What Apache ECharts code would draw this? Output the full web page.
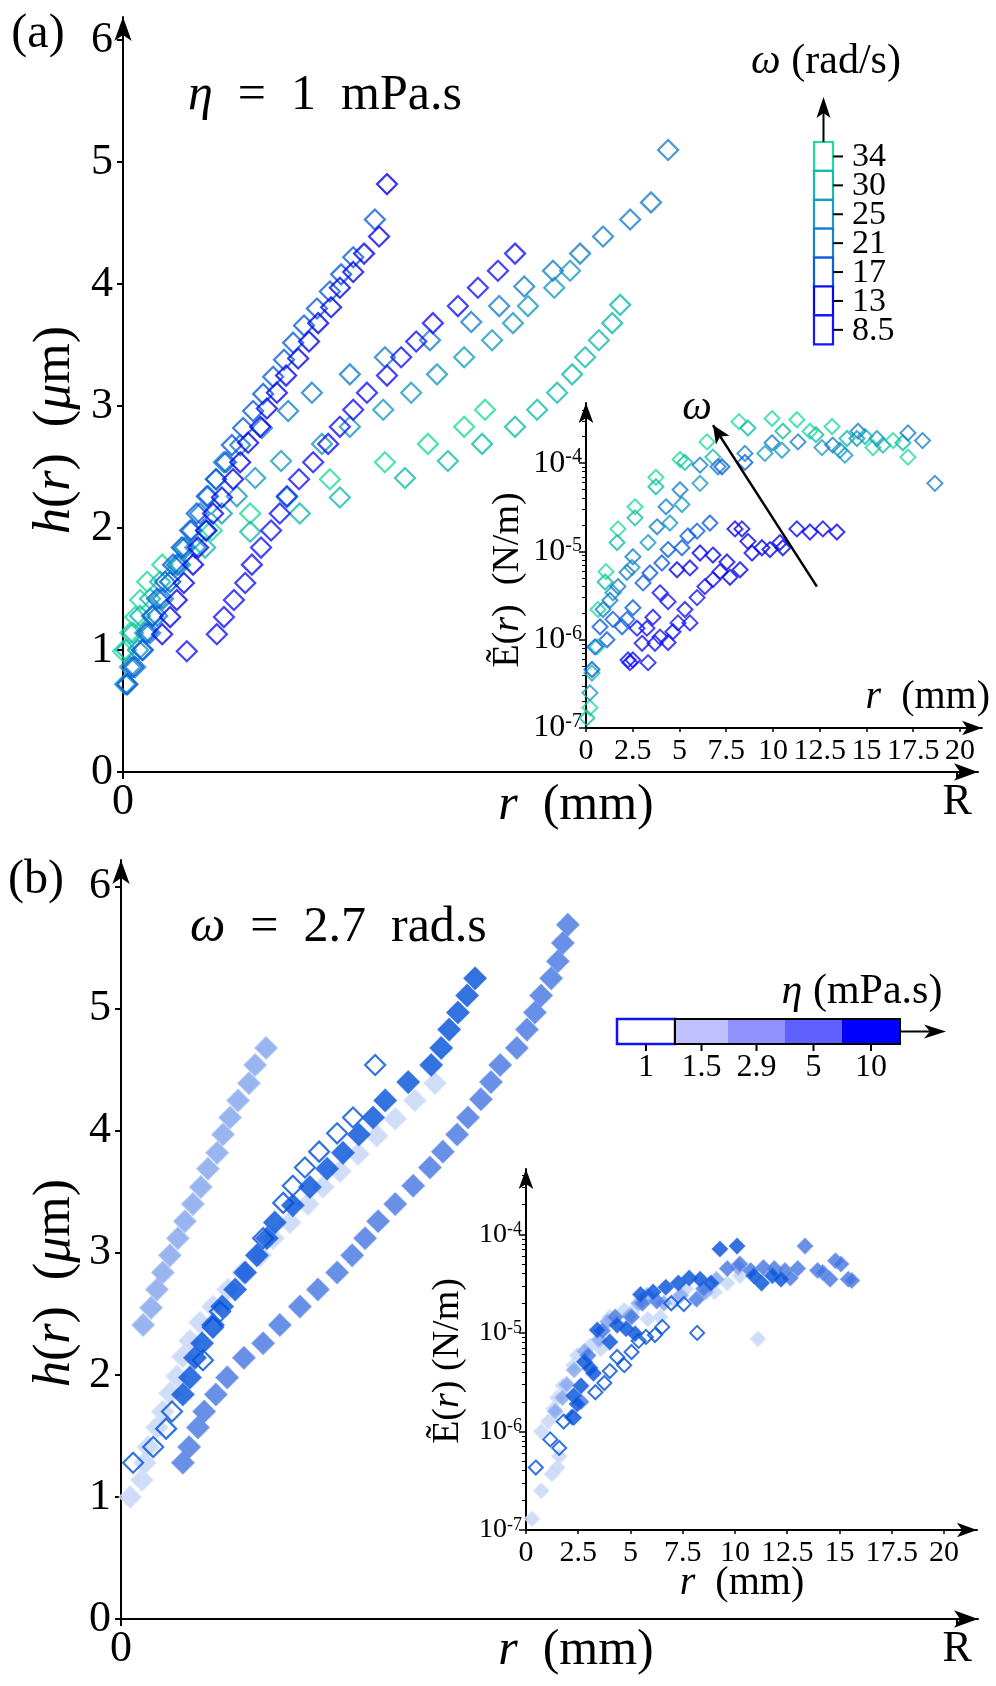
<!DOCTYPE html>
<html>
<head>
<meta charset="utf-8">
<script src="https://cdn.jsdelivr.net/npm/echarts@6/dist/echarts.min.js"></script>
<style>
  html, body { margin: 0; padding: 0; background: #fff; }
  #chart { width: 996px; height: 1686px; }
</style>
</head>
<body>
<div id="chart"></div>
<script>
// ---------- panel (a): h(r) for several rotation speeds, eta = 1 mPa.s ----------
const omegaLabels = ['34', '30', '25', '21', '17', '13', '8.5'];
const omegaColors = ['#20dc9c', '#14bcaa', '#1a9cc0', '#1a7ecc', '#0c5ee0', '#0808ec', '#1414ff'];

const hA_34 = [[0.0,0.99],[0.17,1.14],[0.29,1.27],[0.41,1.41],[0.58,1.56],[0.94,1.70],[1.44,1.84],[2.13,1.98],[3.05,2.12],[3.93,2.25],[4.96,2.40],[6.28,2.54],[7.31,2.69],[8.18,2.83],[8.68,2.97]];
const hA_30 = [[0.07,1.0],[0.24,1.14],[0.41,1.28],[0.65,1.42],[0.89,1.56],[1.32,1.70],[1.97,1.84],[3.05,1.97],[4.24,2.12],[5.20,2.25],[6.76,2.41],[7.79,2.55],[8.61,2.69],[9.40,2.83],[9.93,2.97],[10.41,3.11],[10.77,3.26],[11.08,3.40],[11.41,3.54],[11.73,3.68],[11.92,3.83]];
const hA_25 = [[0.05,0.72],[0.17,0.86],[0.36,1.0],[0.53,1.14],[0.72,1.28],[0.89,1.42],[1.13,1.56],[1.37,1.70],[1.73,1.84],[2.01,1.98],[2.37,2.12],[2.73,2.26],[3.17,2.41],[3.79,2.55],[4.77,2.69],[5.44,2.83],[6.24,2.97],[6.91,3.11],[7.53,3.26],[8.18,3.40],[8.85,3.54],[9.35,3.68],[9.71,3.82],[10.34,3.97],[10.72,4.11]];
const hA_21 = [[0.10,0.72],[0.29,0.86],[0.48,1.0],[0.65,1.14],[0.82,1.28],[0.96,1.42],[1.13,1.56],[1.29,1.70],[1.49,1.84],[1.65,1.98],[1.85,2.12],[2.04,2.26],[2.23,2.40],[2.42,2.54],[2.81,2.68],[3.33,2.82],[3.96,2.96],[4.53,3.11],[5.44,3.26],[6.28,3.40],[7.36,3.54],[8.35,3.69],[9.02,3.82],[9.62,3.98],[10.31,4.11],[10.96,4.25],[11.51,4.39],[12.16,4.53],[12.66,4.67],[13.07,5.10]];
const hA_17 = [[0.10,0.72],[0.24,0.86],[0.46,1.0],[0.58,1.14],[0.70,1.28],[0.82,1.42],[1.01,1.56],[1.20,1.70],[1.41,1.84],[1.61,1.98],[1.77,2.12],[2.01,2.26],[2.23,2.40],[2.47,2.54],[2.61,2.68],[2.88,2.82],[3.12,2.96],[3.36,3.10],[3.60,3.24],[3.86,3.38],[4.08,3.52],[4.34,3.66],[4.65,3.80],[4.96,3.94],[5.23,4.08],[5.52,4.22],[6.04,4.53]];
const hA_13 = [[0.94,1.13],[1.13,1.27],[1.29,1.41],[1.46,1.55],[1.68,1.70],[1.80,1.84],[1.99,1.98],[2.16,2.12],[2.37,2.25],[2.64,2.40],[2.81,2.54],[3.00,2.70],[3.29,2.83],[3.45,2.98],[3.69,3.11],[3.91,3.25],[4.20,3.39],[4.46,3.53],[4.68,3.68],[4.99,3.81],[5.20,3.97],[5.52,4.10],[5.78,4.25],[6.14,4.39],[6.33,4.82]];
const hA_8p5 = [[1.53,0.99],[2.25,1.13],[2.42,1.27],[2.66,1.41],[2.93,1.55],[3.09,1.70],[3.31,1.84],[3.55,1.98],[3.76,2.12],[3.93,2.26],[4.22,2.40],[4.56,2.54],[4.92,2.69],[5.20,2.83],[5.52,2.97],[5.85,3.11],[6.33,3.25],[6.67,3.40],[7.03,3.53],[7.43,3.68],[8.03,3.82],[8.51,3.97],[8.99,4.11],[9.40,4.25]];

// inset (a): E(r) in N/m
const eA_34 = [[0.21,1.7e-7],[0.59,8.3e-7],[0.64,2.2e-6],[1.07,5.9e-6],[1.71,1.8e-5],[2.62,3.2e-5],[3.74,6.9e-5],[5.03,1.1e-4],[6.47,1.74e-4],[8.18,2.95e-4],[9.95,3.2e-4],[11.28,3.1e-4],[11.98,2.3e-4],[13.16,2.6e-4],[15.35,1.5e-4],[16.42,1.8e-4],[17.22,1.17e-4]];
const eA_30 = [[0.05,1.3e-7],[0.32,4.2e-7],[1.02,4.5e-6],[1.66,1.26e-5],[2.62,2.4e-5],[3.74,5.4e-5],[5.29,1.02e-4],[6.79,1.17e-4],[8.66,2.5e-4],[10.53,2.3e-4],[12.3,2.1e-4],[13.96,1.9e-4],[14.92,2.0e-4],[15.88,1.6e-4],[16.95,1.7e-4]];
const eA_25 = [[0.21,2.5e-7],[1.44,3.4e-6],[2.46,6.6e-6],[3.32,1.26e-5],[4.49,2.1e-5],[5.13,3.4e-5],[6.10,5.9e-5],[9.57,1.29e-4],[10.48,1.4e-4],[12.62,1.5e-4],[13.58,1.4e-4],[13.85,1.23e-4],[14.49,1.9e-4],[15.56,1.9e-4]];
const eA_21 = [[0.91,2.2e-6],[1.28,2.8e-6],[1.71,4.0e-6],[2.19,5.8e-6],[2.51,8.7e-6],[3.80,1.9e-5],[4.28,3.2e-5],[5.03,5.0e-5],[6.10,9.5e-5],[7.06,9.1e-5],[8.50,1.29e-4],[9.95,1.7e-4],[11.34,1.74e-4],[13.2,1.6e-4],[14.55,2.3e-4],[17.22,2.2e-4],[18.0,1.8e-4],[18.66,5.9e-5]];
const eA_17 = [[0.32,4.6e-7],[0.48,8.3e-7],[0.75,1.4e-6],[1.12,1.0e-6],[1.44,1.7e-6],[1.93,1.4e-6],[2.19,1.7e-6],[2.51,2.3e-6],[3.05,4.4e-6],[3.42,5.7e-6],[4.06,7.4e-6],[4.39,1.05e-5],[5.13,1.1e-5],[5.45,1.5e-5],[5.94,1.7e-5],[6.63,2.1e-5],[7.27,9.1e-5],[8.50,1.02e-4]];
const eA_13 = [[4.87,6.2e-6],[5.56,6.5e-6],[6.10,9.6e-6],[6.79,9.1e-6],[7.17,5.9e-6],[7.54,7.6e-6],[7.7,5.1e-6],[8.24,6.2e-6],[7.97,1.8e-5],[8.34,1.8e-5],[8.66,1.3e-5],[8.88,9.6e-6],[9.41,1.1e-5],[9.84,1.05e-5],[10.37,1.26e-5],[10.53,1.1e-5],[11.28,1.8e-5],[11.98,1.66e-5],[12.67,1.8e-5],[13.42,1.66e-5]];
const eA_8p5 = [[2.25,5.9e-7],[2.35,5.5e-7],[2.51,5.9e-7],[2.73,1.35e-6],[3.0,9.1e-7],[3.26,1.35e-6],[3.32,5.5e-7],[3.58,1.8e-6],[3.69,9.1e-7],[3.96,3.4e-6],[3.96,1.07e-6],[4.39,2.7e-6],[4.39,9.3e-7],[4.65,1.23e-6],[4.92,1.55e-6],[5.29,2.2e-6],[5.56,1.55e-6],[5.94,3.0e-6],[6.36,4.0e-6],[6.79,4.8e-6]];

// ---------- panel (b): h(r) for several viscosities, omega = 2.7 ----------
const etaLabels = ['1', '1.5', '2.9', '5', '10'];
const etaBarColors = ['#ffffff', '#c0c0ff', '#9090ff', '#6060ff', '#0000ff'];
const etaMarkColors = ['#0050d8', '#c4d4f6', '#80a2ec', '#4274e0', '#0050d8'];
const etaMarkBorders = ['#0050d8', '#d6e2fa', '#a2bbf2', '#6a90e8', '#2a6ae0'];

const hB_1 = [[0.29,1.28],[0.77,1.41],[1.08,1.56],[1.22,1.70],[1.96,2.12],[2.20,2.39],[2.37,2.52],[3.40,3.12],[3.88,3.41],[4.11,3.55],[4.40,3.70],[4.74,3.83],[5.17,3.98],[5.55,4.11],[6.08,4.54]];
const hB_1p5 = [[0.22,1.0],[0.50,1.14],[0.57,1.28],[0.65,1.41],[0.86,1.57],[1.00,1.70],[1.17,1.85],[1.34,1.99],[1.48,2.15],[1.65,2.28],[1.89,2.43],[2.20,2.56],[2.56,2.70],[2.92,2.84],[3.33,2.98],[3.64,3.12],[4.04,3.25],[4.47,3.40],[4.83,3.54],[5.24,3.67],[5.67,3.81],[6.12,3.96],[6.56,4.10],[7.03,4.25],[7.51,4.39]];
const hB_2p9 = [[0.53,2.41],[0.72,2.55],[0.86,2.70],[1.00,2.84],[1.17,2.98],[1.36,3.12],[1.53,3.26],[1.72,3.40],[1.91,3.54],[2.08,3.69],[2.30,3.82],[2.44,3.97],[2.61,4.11],[2.80,4.25],[3.06,4.39],[3.21,4.54],[3.47,4.68]];
const hB_5 = [[1.48,1.28],[1.63,1.41],[1.84,1.57],[1.99,1.70],[2.27,1.84],[2.54,1.98],[2.94,2.14],[3.40,2.26],[3.80,2.41],[4.28,2.56],[4.71,2.70],[5.17,2.84],[5.53,2.98],[5.84,3.12],[6.15,3.26],[6.56,3.40],[6.99,3.55],[7.39,3.70],[7.70,3.83],[8.04,3.97],[8.30,4.11],[8.61,4.26],[8.85,4.40],[9.07,4.54],[9.47,4.68],[9.71,4.83],[9.90,4.97],[10.05,5.11],[10.29,5.25],[10.45,5.39],[10.57,5.54],[10.69,5.69]];
const hB_10 = [[1.48,1.84],[1.65,1.98],[1.77,2.14],[1.94,2.26],[2.20,2.41],[2.42,2.56],[2.73,2.70],[2.97,2.84],[3.25,2.98],[3.49,3.12],[3.68,3.25],[4.11,3.39],[4.52,3.54],[4.93,3.69],[5.31,3.82],[5.69,3.97],[6.03,4.11],[6.32,4.25],[6.87,4.40],[7.42,4.54],[7.66,4.68],[7.85,4.83],[8.06,4.97],[8.28,5.11],[8.47,5.25]];

// inset (b): E(r) in N/m
const eB_1 = [[0.47,4.3e-7],[1.16,8.3e-7],[1.59,6.8e-7],[1.8,1.26e-6],[2.28,1.38e-6],[3.32,2.5e-6],[3.75,3.1e-6],[4.01,4.1e-6],[4.36,5.7e-6],[4.70,4.7e-6],[5.05,6.4e-6],[5.39,8.3e-6],[5.74,9.1e-6],[6.17,9.5e-6],[6.52,1.15e-5],[6.95,2.0e-5],[7.55,1.96e-5],[8.19,1.0e-5]];
const eB_1p5 = [[0.29,1.3e-7],[0.73,2.5e-7],[1.24,3.7e-7],[1.5,4.3e-7],[1.59,5.6e-7],[0.73,1.0e-6],[1.07,1.26e-6],[1.33,1.7e-6],[1.5,2.2e-6],[1.76,2.9e-6],[2.28,4.7e-6],[2.45,5.9e-6],[3.06,7.4e-6],[3.58,6.9e-6],[4.01,1.45e-5],[4.70,1.7e-5],[5.05,1.6e-5],[5.83,1.38e-5],[6.43,1.45e-5],[7.12,2.1e-5],[7.64,2.8e-5],[9.02,2.6e-5],[9.63,3.2e-5],[10.23,3.8e-5],[11.1,8.7e-6]];
const eB_2p9 = [[1.4,1.6e-6],[1.75,2.2e-6],[1.95,3.0e-6],[2.3,4.2e-6],[2.8,6.5e-6],[3.5,8.5e-6],[3.9,1.3e-5],[4.95,1.5e-5],[5.39,2.0e-5],[5.8,2.4e-5],[6.6,2.0e-5],[7.4,2.4e-5],[8.59,2.6e-5],[9.11,3.5e-5],[10.15,4.6e-5]];
const eB_5 = [[2.63,2.0e-6],[2.97,5.9e-6],[3.66,1.05e-5],[4.27,1.45e-5],[5.05,1.45e-5],[5.57,2.0e-5],[6.26,2.1e-5],[8.16,2.2e-5],[8.5,2.8e-5],[9.63,4.5e-5],[10.23,5.0e-5],[10.75,4.3e-5],[11.36,4.6e-5],[11.88,4.5e-5],[12.39,4.3e-5],[12.65,3.6e-5],[13.0,4.5e-5],[13.35,7.6e-5],[13.95,4.3e-5],[14.2,4.1e-5],[14.55,3.5e-5],[14.81,5.4e-5],[15.07,5.0e-5],[15.42,3.5e-5],[15.59,3.4e-5]];
const eB_10 = [[2.20,1.4e-6],[2.28,2.3e-6],[2.45,1.9e-6],[2.63,2.9e-6],[2.80,5.1e-6],[3.06,4.4e-6],[3.23,3.9e-6],[3.41,1.07e-5],[4.01,8.1e-6],[4.36,1.2e-5],[4.79,1.1e-5],[5.22,9.8e-6],[5.48,2.45e-5],[6.08,2.6e-5],[6.69,2.9e-5],[7.29,3.2e-5],[7.81,3.6e-5],[8.33,3.5e-5],[8.85,3.2e-5],[9.28,7.1e-5],[10.1,7.6e-5],[10.9,3.8e-5],[11.27,3.2e-5],[11.79,3.8e-5],[12.2,3.5e-5]];

// axis ticks
const hTicks = [0, 1, 2, 3, 4, 5, 6];
const rMainTicks = [0, 20];          // 0 and R
const rInsetTicks = [0, 2.5, 5, 7.5, 10, 12.5, 15, 17.5, 20];
const eMajorTicks = [1e-7, 1e-6, 1e-5, 1e-4];
const eMinorTicks = [];
[-7, -6, -5, -4].forEach(p => { for (let k = 2; k <= 9; k++) eMinorTicks.push(k * Math.pow(10, p)); });

const FONT = '"Liberation Serif", "DejaVu Serif", serif';

function mainX(grid) {
  return {
    type: 'value', gridIndex: grid, min: 0, max: 20.5,
    axisLine: { show: true, lineStyle: { color: '#000', width: 2 }, symbol: ['none', 'arrow'], symbolSize: [13, 24] },
    axisTick: { show: true, customValues: rMainTicks, length: 7, lineStyle: { width: 2, color: '#000' } },
    axisLabel: { customValues: rMainTicks, formatter: v => (v === 0 ? '0' : 'R'), fontSize: 44, fontFamily: FONT, color: '#000', margin: 8 },
    splitLine: { show: false }
  };
}
function mainY(grid, max) {
  return {
    type: 'value', gridIndex: grid, min: 0, max: max,
    axisLine: { show: true, lineStyle: { color: '#000', width: 2 }, symbol: ['none', 'arrow'], symbolSize: [13, 24] },
    axisTick: { show: true, customValues: hTicks, length: 6, lineStyle: { width: 2, color: '#000' } },
    axisLabel: { customValues: hTicks, fontSize: 44, fontFamily: FONT, color: '#000', margin: 10 },
    splitLine: { show: false }
  };
}
function insetX(grid, max, fs) {
  return {
    type: 'value', gridIndex: grid, min: 0, max: max,
    axisLine: { show: true, lineStyle: { color: '#000', width: 2 }, symbol: ['none', 'arrow'], symbolSize: [11, 20] },
    axisTick: { show: true, customValues: rInsetTicks, length: 4, lineStyle: { width: 1.5, color: '#000' } },
    axisLabel: { customValues: rInsetTicks, fontSize: fs, fontFamily: FONT, color: '#000', margin: 8 },
    splitLine: { show: false }
  };
}
function insetY(grid, max, fs, sup) {
  return {
    type: 'log', logBase: 10, gridIndex: grid, min: 1e-7, max: max,
    axisLine: { show: true, lineStyle: { color: '#000', width: 2 }, symbol: ['none', 'arrow'], symbolSize: [11, 20] },
    axisTick: { show: true, customValues: eMajorTicks, length: 7, lineStyle: { width: 1.5, color: '#000' } },
    axisLabel: {
      customValues: eMajorTicks, margin: 4, color: '#000',
      formatter: v => '{b|10}{s|' + Math.round(Math.log10(v)) + '}',
      rich: {
        b: { fontSize: fs, fontFamily: FONT, color: '#000' },
        s: { fontSize: sup, fontFamily: FONT, color: '#000', verticalAlign: 'top' }
      }
    },
    splitLine: { show: false }
  };
}
function minorY(grid, max) {
  return {
    type: 'log', logBase: 10, gridIndex: grid, min: 1e-7, max: max, position: 'left',
    axisLine: { show: false },
    axisTick: { show: true, customValues: eMinorTicks, length: 4, lineStyle: { width: 1, color: '#000' } },
    axisLabel: { show: false },
    splitLine: { show: false }
  };
}

function hollow(data, color, xi, yi, size, bw) {
  return {
    type: 'scatter', xAxisIndex: xi, yAxisIndex: yi, symbol: 'diamond', symbolSize: size, data: data,
    itemStyle: { color: 'rgba(255,255,255,0)', borderColor: color, borderWidth: bw }, silent: true
  };
}
function filled(data, i, xi, yi, size) {
  return {
    type: 'scatter', xAxisIndex: xi, yAxisIndex: yi, symbol: 'diamond', symbolSize: size, data: data,
    itemStyle: { color: etaMarkColors[i], borderColor: etaMarkBorders[i], borderWidth: 1.5 }, silent: true
  };
}

const hA = [hA_34, hA_30, hA_25, hA_21, hA_17, hA_13, hA_8p5];
const eA = [eA_34, eA_30, eA_25, eA_21, eA_17, eA_13, eA_8p5];

const series = [];
hA.forEach((d, i) => series.push(hollow(d, omegaColors[i], 0, 0, 20, 2.2)));
eA.forEach((d, i) => series.push(hollow(d, omegaColors[i], 1, 1, 15, 2)));
// omega arrow in inset (a)
series[7].markLine = {
  silent: true, symbol: ['none', 'arrow'], symbolSize: [12, 18],
  lineStyle: { color: '#000', width: 2.5, type: 'solid' }, label: { show: false },
  data: [[{ coord: [12.35, 4.0e-6] }, { coord: [6.79, 2.7e-4] }]]
};
series.push(filled(hB_1p5, 1, 2, 3, 22));
series.push(filled(hB_2p9, 2, 2, 3, 22));
series.push(filled(hB_5, 3, 2, 3, 22));
series.push(hollow(hB_1, etaMarkColors[0], 2, 3, 20, 2.2));
series.push(filled(hB_10, 4, 2, 3, 22));
series.push(filled(eB_1p5, 1, 3, 4, 15));
series.push(filled(eB_2p9, 2, 3, 4, 15));
series.push(filled(eB_5, 3, 3, 4, 15));
series.push(hollow(eB_1, etaMarkColors[0], 3, 4, 14, 2));
series.push(filled(eB_10, 4, 3, 4, 15));

// ---------- annotations / colour keys ----------
function txt(x, y, text, size, opts) {
  return Object.assign({
    type: 'text', x: x, y: y, silent: true,
    style: Object.assign({ text: text, fontSize: size, fontFamily: FONT, fill: '#000', align: 'center', verticalAlign: 'middle' }, (opts && opts.style) || {})
  }, (opts && opts.el) || {});
}
function line(x1, y1, x2, y2, w) {
  return { type: 'line', silent: true, shape: { x1, y1, x2, y2 }, style: { stroke: '#000', lineWidth: w || 2 } };
}
function head(points) {
  return { type: 'polygon', silent: true, shape: { points: points }, style: { fill: '#000' } };
}
function richText(x, y, text, size, align, rot) {
  return {
    type: 'text', x: x, y: y, rotation: rot || 0, silent: true,
    style: { text: text, fontSize: size, fontFamily: FONT, fill: '#000', align: align, verticalAlign: 'middle',
             rich: { i: { fontStyle: 'italic', fontSize: size, fontFamily: FONT } } }
  };
}

const graphics = [];
graphics.push(txt(38, 34, '(a)', 48));
graphics.push(txt(36, 880, '(b)', 48));
// panel titles
graphics.push(richText(188, 96, '{i|η}  =  1  mPa.s', 50, 'left'));
graphics.push(richText(190, 928, '{i|ω}  =  2.7  rad.s', 50, 'left'));
// axis titles
graphics.push(richText(55, 430, '{i|h}({i|r})  ({i|μ}m)', 52, 'center', Math.PI / 2));
graphics.push(richText(55, 1283, '{i|h}({i|r})  ({i|μ}m)', 52, 'center', Math.PI / 2));
graphics.push(richText(576, 806, '{i|r}  (mm)', 50, 'center'));
graphics.push(richText(576, 1651, '{i|r}  (mm)', 50, 'center'));
graphics.push(richText(508, 580, 'Ẽ({i|r})  (N/m)', 38, 'center', Math.PI / 2));
graphics.push(richText(448, 1361, 'Ẽ({i|r}) (N/m)', 38, 'center', Math.PI / 2));
graphics.push(richText(990, 697, '{i|r}  (mm)', 40, 'right'));
graphics.push(richText(742, 1583, '{i|r}  (mm)', 40, 'center'));
graphics.push(txt(697, 408, 'ω', 42, { style: { fontStyle: 'italic' } }));

// omega colour key (panel a)
const kx = 814, ky = 142, kw = 19, kh = 28.9;
omegaLabels.forEach((lab, i) => {
  const y0 = ky + i * kh;
  graphics.push({ type: 'rect', silent: true, shape: { x: kx, y: y0, width: kw, height: kh },
                  style: { fill: '#fff', stroke: omegaColors[i], lineWidth: 2.2 } });
  graphics.push(line(kx + kw, y0 + kh / 2, kx + kw + 10, y0 + kh / 2, 2));
  graphics.push(txt(kx + kw + 19, y0 + kh / 2 + 1, lab, 34, { style: { align: 'left' } }));
});
graphics.push(line(kx + kw / 2, ky, kx + kw / 2, ky - 30, 2));
graphics.push(head([[kx + kw / 2, ky - 45], [kx + kw / 2 - 7, ky - 24], [kx + kw / 2, ky - 29], [kx + kw / 2 + 7, ky - 24]]));
graphics.push(richText(826, 62, '{i|ω} (rad/s)', 42, 'center'));

// eta colour key (panel b)
const bx = [617, 675, 728, 785, 842, 900], by = 1019, bh = 25;
etaLabels.forEach((lab, i) => {
  graphics.push({ type: 'rect', silent: true, shape: { x: bx[i], y: by, width: bx[i + 1] - bx[i], height: bh },
                  style: { fill: etaBarColors[i], stroke: i === 0 ? '#1010ff' : null, lineWidth: 2.5 } });
  const cx = (bx[i] + bx[i + 1]) / 2;
  graphics.push(line(cx, by + bh, cx, by + bh + 7, 2));
  graphics.push(txt(cx, by + bh + 24, lab, 32));
});
graphics.push({ type: 'rect', silent: true, shape: { x: bx[1], y: by, width: bx[5] - bx[1], height: bh },
                style: { fill: null, stroke: '#000', lineWidth: 2 } });
graphics.push(line(bx[5], by + bh / 2, bx[5] + 32, by + bh / 2, 2));
graphics.push(head([[bx[5] + 46, by + bh / 2], [bx[5] + 24, by + bh / 2 - 7], [bx[5] + 30, by + bh / 2], [bx[5] + 24, by + bh / 2 + 7]]));
graphics.push(richText(862, 992, '{i|η} (mPa.s)', 42, 'center'));

const option = {
  animation: false,
  backgroundColor: '#fff',
  grid: [
    { left: 123, right: 18, top: 17, bottom: 914 },
    { left: 586, right: 14, top: 403, bottom: 958 },
    { left: 121, right: 18, top: 860, bottom: 67 },
    { left: 526, right: 19, top: 1169, bottom: 156 }
  ],
  xAxis: [mainX(0), insetX(1, 21.18, 30), mainX(2), insetX(3, 21.58, 30)],
  yAxis: [mainY(0, 6.19), insetY(1, 4.8e-4, 32, 20), minorY(1, 4.8e-4), mainY(2, 6.22), insetY(3, 4.6e-4, 28, 18), minorY(3, 4.6e-4)],
  series: series,
  graphic: graphics
};

const chart = echarts.init(document.getElementById('chart'));
chart.setOption(option);
</script>
</body>
</html>
